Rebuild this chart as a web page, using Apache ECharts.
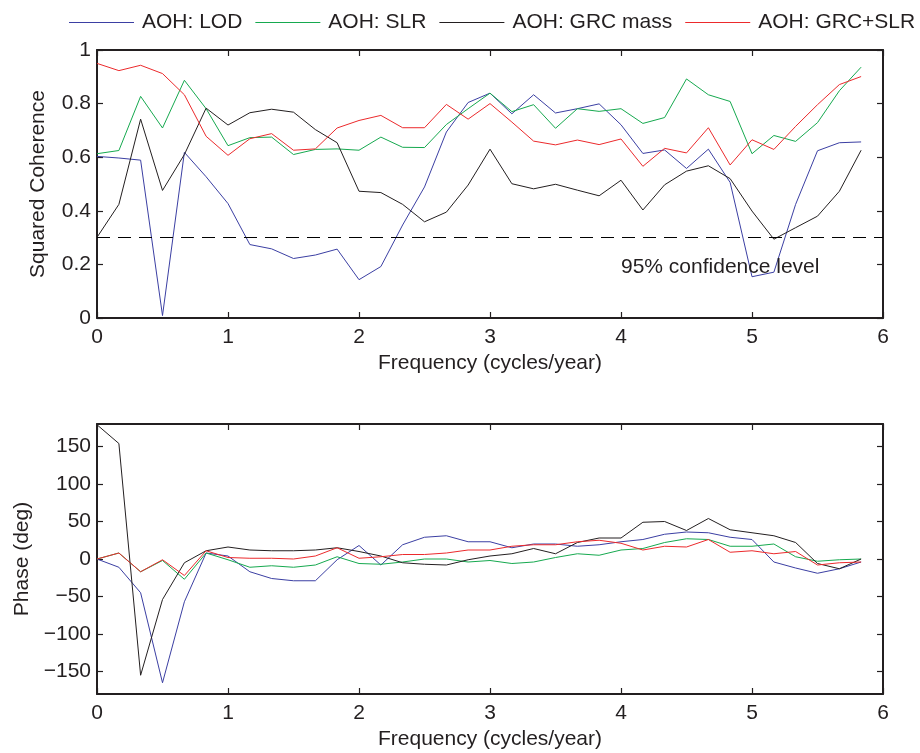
<!DOCTYPE html>
<html>
<head>
<meta charset="utf-8">
<script src="https://cdn.jsdelivr.net/npm/echarts@6/dist/echarts.min.js"></script>
<style>
  html, body { margin: 0; padding: 0; background: #fff; }
  #chart { width: 920px; height: 753px; }
</style>
</head>
<body>
<div id="chart"></div>
<script>
// frequency (cycles/year)
const freq = [0, 0.167, 0.333, 0.5, 0.667, 0.833, 1, 1.167, 1.333, 1.5, 1.667, 1.833,
  2, 2.167, 2.333, 2.5, 2.667, 2.833, 3, 3.167, 3.333, 3.5, 3.667, 3.833,
  4, 4.167, 4.333, 4.5, 4.667, 4.833, 5, 5.167, 5.333, 5.5, 5.667, 5.833];

// squared coherence
const cohLOD = [0.603, 0.597, 0.589, 0.009, 0.618, 0.527, 0.427, 0.274, 0.258, 0.222, 0.235, 0.257,
  0.143, 0.192, 0.347, 0.489, 0.694, 0.804, 0.839, 0.762, 0.833, 0.765, 0.781, 0.799,
  0.721, 0.614, 0.627, 0.558, 0.630, 0.506, 0.154, 0.171, 0.424, 0.624, 0.654, 0.657];
const cohSLR = [0.613, 0.625, 0.827, 0.709, 0.887, 0.781, 0.643, 0.673, 0.675, 0.610, 0.629, 0.631,
  0.626, 0.675, 0.637, 0.636, 0.722, 0.781, 0.839, 0.770, 0.796, 0.708, 0.781, 0.771,
  0.781, 0.726, 0.748, 0.892, 0.833, 0.808, 0.613, 0.681, 0.659, 0.729, 0.848, 0.936];
const cohGRC = [0.301, 0.424, 0.742, 0.476, 0.610, 0.783, 0.720, 0.766, 0.779, 0.768, 0.703, 0.654,
  0.473, 0.468, 0.424, 0.359, 0.395, 0.496, 0.630, 0.501, 0.482, 0.499, 0.477, 0.456,
  0.514, 0.403, 0.497, 0.548, 0.568, 0.520, 0.399, 0.294, 0.337, 0.380, 0.473, 0.626];
const cohGS = [0.950, 0.923, 0.943, 0.912, 0.833, 0.678, 0.607, 0.669, 0.688, 0.626, 0.631, 0.709,
  0.737, 0.756, 0.710, 0.710, 0.797, 0.742, 0.800, 0.731, 0.660, 0.646, 0.664, 0.647,
  0.668, 0.566, 0.633, 0.616, 0.710, 0.571, 0.665, 0.629, 0.715, 0.796, 0.871, 0.901];

// phase (deg)
const phLOD = [0, -11, -45, -165, -57, 8, 4, -17, -26, -29, -29, -1,
  18, -8, 19, 29, 31, 23, 23, 15, 20, 20, 17, 19,
  23, 26, 33, 36, 35, 29, 26, -4, -12, -19, -13, -4];
const phSLR = [0, 8, -17, -2, -27, 8, -1, -11, -9, -11, -8, 3,
  -6, -7, -4, 0, 0, -4, -2, -6, -4, 2, 7, 5,
  12, 14, 22, 27, 26, 17, 17, 20, 3, -3, -1, 0];
const phGRC = [179, 154, -155, -54, -5, 11, 16, 12, 11, 11, 12, 15,
  10, 4, -5, -7, -8, -1, 4, 7, 14, 7, 22, 28,
  28, 49, 50, 38, 54, 39, 35, 31, 22, -6, -13, 0];
const phGS = [0, 8, -17, -1, -22, 11, 2, 1, 1, 0, 4, 15,
  1, 3, 6, 6, 8, 12, 12, 17, 19, 19, 23, 25,
  21, 12, 17, 16, 26, 9, 11, 7, 10, -8, -5, -4];

const names = ['AOH: LOD', 'AOH: SLR', 'AOH: GRC mass', 'AOH: GRC+SLR'];
const colors = ['#3b3fa3', '#16a94f', '#231f20', '#ec2a2c'];
const phaseTicks = [-150, -100, -50, 0, 50, 100, 150];
const confLevel = 0.3;

const FONT = 'Liberation Sans, Arial, Helvetica, sans-serif';
const INK = '#231f20';

const pairs = (ys) => freq.map((f, i) => [f, ys[i]]);
const minus = (v) => String(v).replace('-', '\u2212');

const axisLine = { show: true, onZero: false, lineStyle: { color: INK, width: 2 } };
const tick = { show: true, inside: true, length: 6, lineStyle: { color: INK, width: 1.2 } };
const label = { color: INK, fontSize: 21, fontFamily: FONT };
const nameStyle = { color: INK, fontSize: 21, fontFamily: FONT };

function xAx(grid, pos, showLabel) {
  return {
    type: 'value', gridIndex: grid, position: pos, min: 0, max: 6, interval: 1,
    axisLine: axisLine, axisTick: tick, splitLine: { show: false },
    axisLabel: Object.assign({ show: showLabel, margin: 9 }, label),
    name: showLabel ? 'Frequency (cycles/year)' : '', nameLocation: 'middle', nameGap: 35,
    nameTextStyle: nameStyle
  };
}

const chart = echarts.init(document.getElementById('chart'));

const lines = (grid, data) => data.map((ys, k) => ({
  name: names[k], type: 'line', xAxisIndex: grid * 2, yAxisIndex: grid * 2,
  data: pairs(ys), symbol: 'none', smooth: false,
  lineStyle: { color: colors[k], width: 1 }, itemStyle: { color: colors[k] },
  z: 2 + k
}));

const topSeries = lines(0, [cohLOD, cohSLR, cohGRC, cohGS]);
topSeries.push({
  name: 'conf', type: 'line', xAxisIndex: 0, yAxisIndex: 0, data: [],
  markLine: {
    silent: true, symbol: 'none', label: { show: false },
    lineStyle: { color: '#000', width: 1, type: [13, 8] },
    data: [{ yAxis: confLevel }]
  },
  markPoint: {
    silent: true, symbol: 'circle', symbolSize: 0,
    label: {
      show: true, position: 'right', distance: 0, color: INK, fontSize: 21, fontFamily: FONT,
      formatter: '95% confidence level'
    },
    data: [{ coord: [4.0, 0.19] }]
  }
});

chart.setOption({
  animation: false,
  backgroundColor: '#fff',
  textStyle: { fontFamily: FONT },
  legend: {
    data: names.map((n) => ({ name: n, icon: 'rect' })),
    left: 64, top: 7, width: 870, itemWidth: 65, itemHeight: 1, itemGap: 13,
    textStyle: { color: INK, fontSize: 21, fontFamily: FONT, padding: [0, 0, 0, 3] }
  },
  grid: [
    { left: 97, right: 37, top: 50, height: 268 },
    { left: 97, right: 37, top: 424, height: 270 }
  ],
  xAxis: [xAx(0, 'bottom', true), xAx(0, 'top', false), xAx(1, 'bottom', true), xAx(1, 'top', false)],
  yAxis: [
    {
      type: 'value', gridIndex: 0, position: 'left', min: 0, max: 1, interval: 0.2,
      axisLine: axisLine, axisTick: tick, splitLine: { show: false },
      axisLabel: Object.assign({ margin: 6 }, label),
      name: 'Squared Coherence', nameLocation: 'middle', nameGap: 48, nameTextStyle: nameStyle
    },
    {
      type: 'value', gridIndex: 0, position: 'right', min: 0, max: 1, interval: 0.2,
      axisLine: axisLine, axisTick: tick, splitLine: { show: false }, axisLabel: { show: false }
    },
    {
      type: 'value', gridIndex: 1, position: 'left', min: -180, max: 180,
      axisLine: axisLine, axisTick: Object.assign({ customValues: phaseTicks }, tick),
      splitLine: { show: false },
      axisLabel: Object.assign({ margin: 6, customValues: phaseTicks, formatter: minus }, label),
      name: 'Phase (deg)', nameLocation: 'middle', nameGap: 64, nameTextStyle: nameStyle
    },
    {
      type: 'value', gridIndex: 1, position: 'right', min: -180, max: 180,
      axisLine: axisLine, axisTick: Object.assign({ customValues: phaseTicks }, tick),
      splitLine: { show: false }, axisLabel: { show: false }
    }
  ],
  series: topSeries.concat(lines(1, [phLOD, phSLR, phGRC, phGS]))
});
</script>
</body>
</html>
